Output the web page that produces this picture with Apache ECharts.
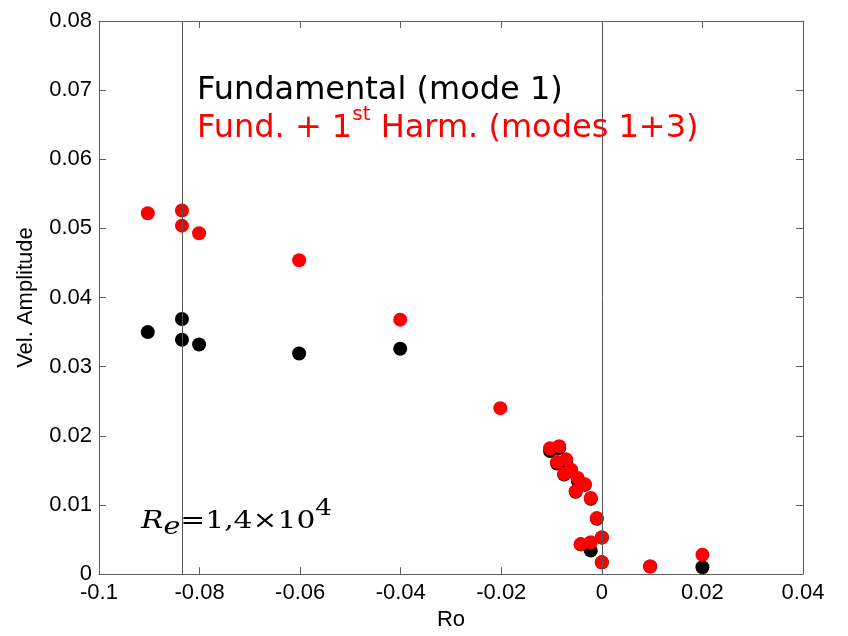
<!DOCTYPE html>
<html>
<head>
<meta charset="utf-8">
<script src="https://cdn.jsdelivr.net/npm/echarts@6/dist/echarts.min.js"></script>
<style>
  html, body { margin: 0; padding: 0; background: #fff; }
  #chart { width: 848px; height: 636px; }
</style>
</head>
<body>
<div id="chart"></div>
<script>
// x / y tick layout
const xMin = -0.1, xMax = 0.04, xStep = 0.02;
const yMin = 0, yMax = 0.08, yStep = 0.01;

// vertical reference lines (Ro)
const refLines = [-0.0835, 0];

// Fundamental (mode 1)
const fundRo = [-0.0903, -0.0835, -0.0835, -0.0801, -0.0602, -0.0401,
  -0.0103, -0.0085, -0.0089, -0.0071, -0.0075, -0.0061, -0.0048, -0.0052,
  -0.0034, -0.0022, -0.0010, -0.0042, -0.0022, 0.0000, 0.0000, 0.0096, 0.0200];
const fundAmp = [0.0350, 0.0369, 0.0339, 0.0332, 0.0319, 0.0326,
  0.0178, 0.0182, 0.0160, 0.0163, 0.0144, 0.0149, 0.0135, 0.0119,
  0.0129, 0.0109, 0.0080, 0.0043, 0.0034, 0.0053, 0.0017, 0.0011, 0.0010];

// Fund. + 1st harm. (modes 1+3)
const harmRo = [-0.0903, -0.0835, -0.0835, -0.0801, -0.0602, -0.0401, -0.0202,
  -0.0103, -0.0085, -0.0089, -0.0071, -0.0075, -0.0061, -0.0048, -0.0052,
  -0.0034, -0.0022, -0.0010, -0.0042, -0.0022, 0.0000, 0.0000, 0.0096, 0.0200];
const harmAmp = [0.0522, 0.0526, 0.0504, 0.0493, 0.0454, 0.0368, 0.0240,
  0.0182, 0.0185, 0.0162, 0.0166, 0.0145, 0.0151, 0.0139, 0.0120,
  0.0130, 0.0110, 0.0081, 0.0043, 0.0046, 0.0053, 0.0017, 0.0011, 0.0028];

const pairs = (xs, ys) => xs.map((x, i) => [x, ys[i]]);

const boxColor = "#5f5f5f";
const sans = '"Liberation Sans", Arial, sans-serif';
const txtFont = '"DejaVu Sans", sans-serif';
const serif = '"DejaVu Serif", serif';

const baseAxis = {
  axisLine: { show: true, onZero: false, lineStyle: { color: boxColor, width: 1 } },
  axisTick: { show: true, inside: true, length: 7, lineStyle: { color: boxColor } },
  splitLine: { show: false }
};

const myChart = echarts.init(document.getElementById("chart"));
myChart.setOption({
  animation: false,
  backgroundColor: "#fff",
  grid: { left: 99, right: 45, top: 21, bottom: 59 },
  xAxis: [
    {
      ...baseAxis,
      type: "value", position: "bottom",
      min: xMin, max: xMax, interval: xStep,
      name: "Ro", nameLocation: "middle", nameGap: 29,
      nameTextStyle: { fontFamily: sans, fontSize: 22, color: "#000" },
      axisLabel: { margin: 8, fontFamily: sans, fontSize: 22, color: "#000" }
    },
    {
      ...baseAxis,
      type: "value", position: "top",
      min: xMin, max: xMax, interval: xStep,
      axisLabel: { show: false }
    }
  ],
  yAxis: [
    {
      ...baseAxis,
      type: "value", position: "left",
      min: yMin, max: yMax, interval: yStep,
      name: "Vel. Amplitude", nameLocation: "middle", nameGap: 62, nameRotate: 90,
      nameTextStyle: { fontFamily: sans, fontSize: 22, color: "#000" },
      axisLabel: { margin: 7, fontFamily: sans, fontSize: 22, color: "#000" }
    },
    {
      ...baseAxis,
      type: "value", position: "right",
      min: yMin, max: yMax, interval: yStep,
      axisLabel: { show: false }
    }
  ],
  series: [
    {
      // reference lines only
      type: "line", data: [], z: 1, silent: true,
      markLine: {
        silent: true, symbol: "none", animation: false, precision: 5,
        label: { show: false },
        lineStyle: { color: "#555", width: 1, type: "solid" },
        data: refLines.map(v => ({ xAxis: v }))
      }
    },
    {
      name: "Fundamental (mode 1)",
      type: "scatter", z: 3,
      symbolSize: 14,
      itemStyle: { color: "#000", opacity: 1 },
      data: pairs(fundRo, fundAmp)
    },
    {
      name: "Fund. + 1st Harm. (modes 1+3)",
      type: "scatter", z: 4,
      symbolSize: 14,
      itemStyle: { color: "#ff0000", opacity: 1 },
      data: pairs(harmRo, harmAmp)
    }
  ],
  graphic: [
    {
      type: "text", x: 197, y: 90.7, z: 10,
      style: {
        text: "Fundamental (mode 1)", fill: "#000",
        fontFamily: txtFont, fontSize: 32, verticalAlign: "middle"
      }
    },
    {
      type: "text", x: 197, y: 145, z: 10,
      style: {
        text: "{a|Fund. + 1}{s|st}{a| Harm. (modes 1+3)}",
        verticalAlign: "bottom",
        rich: {
          a: { fontFamily: txtFont, fontSize: 32, fill: "#ff0000", lineHeight: 36, verticalAlign: "bottom" },
          s: { fontFamily: txtFont, fontSize: 20, fill: "#ff0000", lineHeight: 20, verticalAlign: "bottom", padding: [0, 0, 20, 0] }
        }
      }
    },
    {
      // Re label, slightly stretched to match the wide original glyphs
      type: "text", x: 141, y: 540, scaleX: 1.19, z: 10,
      style: {
        text: "{R|R}{e|e}{n|=1,4×10}{p|4}",
        verticalAlign: "bottom",
        rich: {
          R: { fontFamily: serif, fontStyle: "italic", fontSize: 25, fill: "#000", lineHeight: 28, verticalAlign: "bottom", padding: [0, 0, 6, 0] },
          e: { fontFamily: serif, fontStyle: "italic", fontSize: 24, fill: "#000", lineHeight: 28, verticalAlign: "bottom" },
          n: { fontFamily: serif, fontSize: 25, fill: "#000", lineHeight: 28, verticalAlign: "bottom", padding: [0, 0, 6, 0] },
          p: { fontFamily: serif, fontSize: 22, fill: "#000", lineHeight: 22, verticalAlign: "bottom", padding: [0, 0, 20, 0] }
        }
      }
    }
  ]
});
</script>
</body>
</html>
